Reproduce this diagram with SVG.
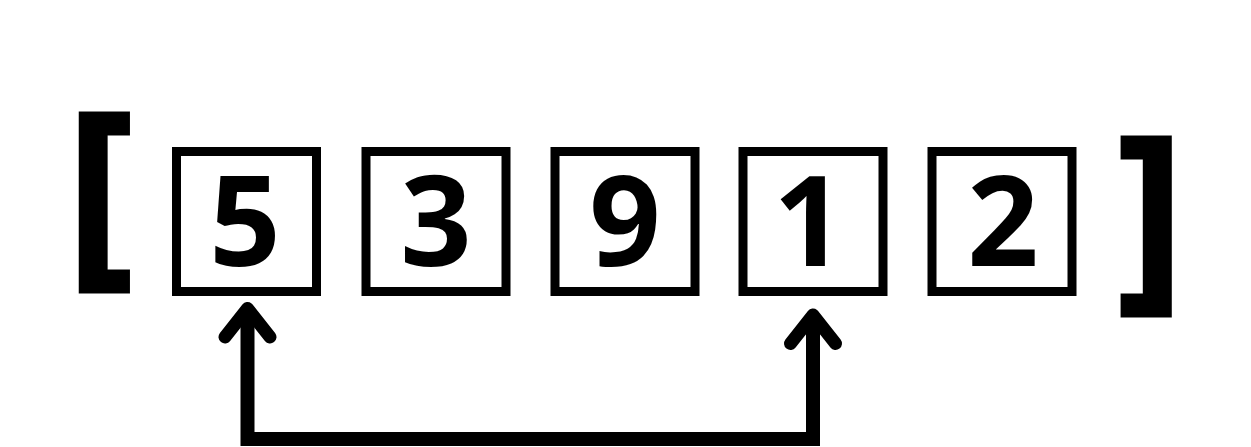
<svg xmlns="http://www.w3.org/2000/svg" width="1251" height="447" viewBox="0 0 1251 447">
<style>
.box{fill:#fff;stroke:#000;stroke-width:9}
.num{font-family:"Open Sans","Liberation Sans",sans-serif;font-weight:700;font-size:125px;fill:#000;text-anchor:middle}
.br{font-family:"Open Sans","Liberation Sans",sans-serif;font-weight:700;font-size:204px;fill:#000;stroke:#000;stroke-width:3;stroke-linejoin:miter}
.conn{fill:none;stroke:#000;stroke-width:14;stroke-linejoin:miter;stroke-linecap:butt}
.head{fill:none;stroke:#000;stroke-width:13;stroke-linejoin:round;stroke-linecap:round}
</style>
<rect width="1251" height="447" fill="#fff"/>
<g id="bracket-left"><text class="br" x="66" y="259.5">[</text></g>
<g id="bracket-right"><text class="br" x="1117" y="283.5">]</text></g>
<g id="node-5"><rect class="box" x="176.5" y="151.5" width="140" height="140"/><text class="num" x="245" y="266">5</text></g>
<g id="node-3"><rect class="box" x="366" y="151.5" width="140" height="140"/><text class="num" x="436" y="266">3</text></g>
<g id="node-9"><rect class="box" x="555" y="151.5" width="140" height="140"/><text class="num" x="625" y="266">9</text></g>
<g id="node-1"><rect class="box" x="743" y="151.5" width="140" height="140"/><text class="num" x="809" y="266">1</text></g>
<g id="node-2"><rect class="box" x="932" y="151.5" width="140" height="140"/><text class="num" x="1003" y="266">2</text></g>
<g id="connectors">
<path class="conn" d="M247.5 312 V439 H813 V318"/>
<path class="head" d="M225 337 L247.5 308.5 L270 337"/>
<path class="head" d="M790.5 343.5 L813 315 L835.5 343.5"/>
</g>
</svg>
